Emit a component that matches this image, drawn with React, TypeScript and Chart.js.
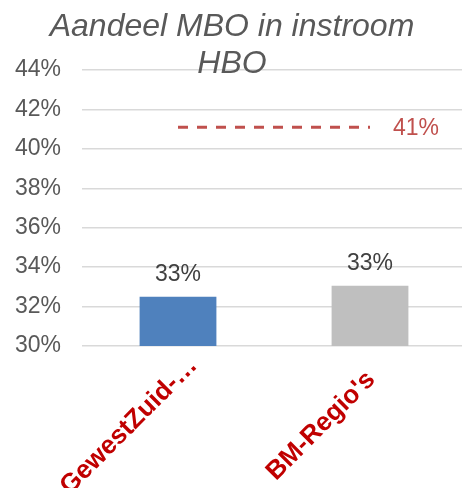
import React, { useEffect, useRef } from "react";
import { Chart, registerables } from "chart.js";

Chart.register(...registerables);

const categories = ["GewestZuid-…", "BM-Regio's"];
const shareValues = [32.5, 33.05];
const shareLabels = ["33%", "33%"];
const barColors = ["#4F81BD", "#BFBFBF"];
const targetValues = [41.1, 41.1];
const targetLabel = "41%";
const titleLines = ["Aandeel MBO in instroom", "HBO"];
const yMin = 30;
const yMax = 44;
const yStep = 2;

const FONT = "'Liberation Sans', Arial, sans-serif";

const overlayPlugin = {
  id: "overlay",
  afterDatasetsDraw(chart: any) {
    const ctx = chart.ctx;
    ctx.save();
    // bar value labels
    const barMeta = chart.getDatasetMeta(0);
    ctx.font = `23px ${FONT}`;
    ctx.fillStyle = "#404040";
    ctx.textAlign = "center";
    ctx.textBaseline = "alphabetic";
    barMeta.data.forEach((el: any, i: number) => {
      ctx.fillText(shareLabels[i], el.x, el.y - 16);
    });
    // target line label
    const lineMeta = chart.getDatasetMeta(1);
    const last = lineMeta.data[lineMeta.data.length - 1];
    ctx.fillStyle = "#C0504D";
    ctx.textAlign = "left";
    ctx.textBaseline = "middle";
    ctx.fillText(targetLabel, last.x + 23, last.y + 1);
    ctx.restore();
  },
  afterDraw(chart: any) {
    const ctx = chart.ctx;
    ctx.save();
    // category labels, rotated and centred as in the reference
    const xScale = chart.scales.x;
    ctx.font = `bold 26px ${FONT}`;
    ctx.fillStyle = "#C00000";
    ctx.textAlign = "center";
    ctx.textBaseline = "middle";
    categories.forEach((label, i) => {
      const px = xScale.getPixelForTick(i);
      ctx.save();
      ctx.translate(px - 49, xScale.top + 80);
      ctx.rotate(-Math.PI / 4);
      ctx.fillText(label, 0, 0);
      ctx.restore();
    });
    // title
    ctx.font = `italic 32px ${FONT}`;
    ctx.fillStyle = "#595959";
    ctx.textAlign = "center";
    ctx.textBaseline = "alphabetic";
    ctx.fillText(titleLines[0], 232, 36);
    ctx.fillText(titleLines[1], 232, 73);
    ctx.restore();
  },
};

export default function App() {
  const canvasRef = useRef<HTMLCanvasElement | null>(null);

  useEffect(() => {
    if (!canvasRef.current) return;
    const chart = new Chart(canvasRef.current, {
      type: "bar",
      data: {
        labels: categories,
        datasets: [
          {
            type: "bar",
            data: shareValues,
            backgroundColor: barColors,
            borderWidth: 0,
            barPercentage: 0.4,
            categoryPercentage: 1,
            order: 2,
          } as any,
          {
            type: "line",
            data: targetValues,
            borderColor: "#C0504D",
            borderWidth: 3,
            borderDash: [10, 9],
            pointRadius: 0,
            fill: false,
            order: 1,
          } as any,
        ],
      },
      options: {
        responsive: false,
        animation: false,
        devicePixelRatio: 1,
        layout: { padding: { top: 70, right: 0, left: 0, bottom: 0 } },
        plugins: {
          legend: { display: false },
          title: { display: false },
          tooltip: { enabled: false },
        },
        scales: {
          x: {
            grid: { display: false },
            border: { display: false },
            ticks: { display: false },
            afterFit: (scale: any) => {
              scale.height = 142;
            },
          },
          y: {
            min: yMin,
            max: yMax,
            border: { display: false },
            grid: { color: "#D9D9D9", lineWidth: 1.5, drawTicks: false },
            ticks: {
              stepSize: yStep,
              color: "#595959",
              font: { family: FONT, size: 23 },
              padding: 21,
              callback: (v: any) => `${v}%`,
            },
            afterFit: (scale: any) => {
              scale.width = 82;
            },
          },
        },
      },
      plugins: [overlayPlugin],
    });
    return () => chart.destroy();
  }, []);

  return (
    <div style={{ position: "absolute", left: 0, top: 0, width: 462, height: 488, overflow: "hidden", background: "#fff" }}>
      <canvas ref={canvasRef} width={466} height={488} style={{ display: "block" }} />
    </div>
  );
}
